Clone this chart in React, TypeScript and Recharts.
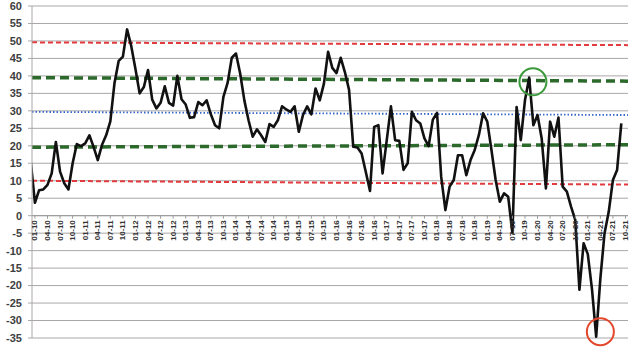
import React from 'react';
import { LineChart, Line, XAxis, YAxis, CartesianGrid, ReferenceLine, ReferenceDot } from 'recharts';

// first point = Dec 2009, monthly through Sep 2021
const firstYear = 2009;
const firstMonth = 12;

const values: number[] = [
  15.5, 3.7, 7.3, 7.5, 8.8, 12.1, 21.1, 12.6, 9.3, 7.5, 15, 20.5, 19.9,
  20.7, 23, 19.7, 15.9, 20.2, 23, 27, 38, 44.3, 45.5, 53.3, 48.5, 42,
  35, 36.8, 41.7, 33.2, 30.7, 32.3, 37, 32.3, 31.5, 40, 33.3, 31.8, 28,
  28.2, 32.5, 31.6, 33, 29, 25.9, 25, 34, 38, 45.2, 46.4, 40.7, 33,
  27.3, 22.6, 24.7, 23, 21.1, 26.2, 25.4, 27.3, 31.3, 30.4, 29.7, 31.3,
  24, 28.8, 31.3, 29, 36.4, 33, 37.8, 46.9, 42.3, 40.8, 45.2, 41.1, 36,
  19.7, 19.5, 17.8, 12.5, 7.1, 25.4, 25.9, 12.1, 21.6, 31.3, 21.6, 21.4,
  13.1, 15, 29.7, 27.3, 26.4, 22.1, 19.9, 27.5, 29.4, 11.1, 1.6, 8.3,
  10.2, 17.3, 17.3, 11.6, 15.9, 18.8, 23.1, 29.3, 26.9, 18.8, 10.2, 4,
  6.4, 5.4, -5, 31.1, 21.6, 33, 39.5, 25.9, 28.8, 22, 7.8, 26.9, 22.6,
  28.1, 8.3, 6.9, 2.6, -1.2, -21.2, -7.9, -11, -21, -34.6, -18, -5, 1.1,
  10.2, 13.1, 26.4,
];

const tickLabels: string[] = [
  '01-10', '04-10', '07-10', '10-10', '01-11', '04-11', '07-11', '10-11',
  '01-12', '04-12', '07-12', '10-12', '01-13', '04-13', '07-13', '10-13',
  '01-14', '04-14', '07-14', '10-14', '01-15', '04-15', '07-15', '10-15',
  '01-16', '04-16', '07-16', '10-16', '01-17', '04-17', '07-17', '10-17',
  '01-18', '04-18', '07-18', '10-18', '01-19', '04-19', '07-19', '10-19',
  '01-20', '04-20', '07-20', '10-20', '01-21', '04-21', '07-21', '10-21',
];

const yTicks: number[] = [-35, -30, -25, -20, -15, -10, -5, 0, 5, 10, 15, 20, 25, 30, 35, 40, 45, 50, 55, 60];

// sloped band lines (value at left edge, value at right edge)
const bandStart: number[] = [49.6, 39.5, 29.7, 19.6, 10.0];
const bandEnd: number[] = [48.8, 38.5, 28.8, 20.3, 8.9];
const bandKind: string[] = ['red', 'green', 'blue', 'green', 'red'];

// highlighted points (circles): month index and value
const circleIndex: number[] = [119.9, 136];
const circleValue: number[] = [38.3, -33.2];
const circleKind: string[] = ['green', 'red'];

const data = values.map((v, i) => ({ i, v }));

const labelIndex = (lab: string) => {
  const [mm, yy] = lab.split('-').map(Number);
  return (2000 + yy - firstYear) * 12 + (mm - firstMonth);
};

const xDomain: [number, number] = [0.3, 142.6];

const bandStyle: Record<string, { stroke: string; width: number; dash: string }> = {
  red: { stroke: '#e23a3f', width: 2, dash: '5 3' },
  green: { stroke: '#2c6a2c', width: 3.5, dash: '9 5' },
  blue: { stroke: '#3568c8', width: 1.8, dash: '1.5 2' },
};
const circleColor: Record<string, string> = { green: '#3a9a3a', red: '#e4482c' };

const font = '"Liberation Sans", Arial, sans-serif';

const XTick = (props: any) => {
  const { cx, cy, text } = props;
  if (cx == null || cy == null) return null;
  return (
    <g>
      <line x1={cx} y1={cy} x2={cx} y2={cy + 3} stroke="#9a9a9a" strokeWidth={1} />
      <text
        x={cx}
        y={cy + 4.5}
        transform={`rotate(-90, ${cx}, ${cy + 4.5})`}
        textAnchor="end"
        dominantBaseline="central"
        fontSize={8}
        fontWeight="bold"
        fontFamily={font}
        fill="#333"
      >
        {text}
      </text>
    </g>
  );
};

export default function App() {
  return (
    <div style={{ position: 'absolute', left: 0, top: 0, width: 640, height: 352, background: '#fff' }}>
      <LineChart width={640} height={352} data={data} margin={{ top: 6, right: 12, bottom: 14, left: 0 }}>
        <CartesianGrid vertical={false} stroke="#aaa6a6" strokeWidth={1} />
        <XAxis
          dataKey="i"
          type="number"
          domain={xDomain}
          allowDataOverflow
          hide
        />
        <YAxis
          type="number"
          domain={[-35, 60]}
          ticks={yTicks}
          interval={0}
          width={32}
          axisLine={{ stroke: '#aaa6a6' }}
          tickLine={{ stroke: '#aaa6a6' }}
          tickSize={4}
          tickMargin={6}
          tick={{ fontSize: 11, fontWeight: 'bold', fill: '#404040', fontFamily: font }}
        />
        <ReferenceLine y={0} stroke="#9a9a9a" strokeWidth={1} />
        {bandStart.map((s, k) => (
          <ReferenceLine
            key={'b' + k}
            segment={[{ x: xDomain[0], y: s }, { x: xDomain[1], y: bandEnd[k] }]}
            stroke={bandStyle[bandKind[k]].stroke}
            strokeWidth={bandStyle[bandKind[k]].width}
            strokeDasharray={bandStyle[bandKind[k]].dash}
            ifOverflow="visible"
          />
        ))}
        {tickLabels.map((lab) => (
          <ReferenceDot
            key={lab}
            x={labelIndex(lab)}
            y={0}
            r={1}
            ifOverflow="visible"
            shape={(p: any) => <XTick cx={p.cx} cy={p.cy} text={lab} />}
          />
        ))}
        <Line
          type="linear"
          dataKey="v"
          stroke="#111"
          strokeWidth={2.6}
          dot={false}
          isAnimationActive={false}
          strokeLinejoin="round"
        />
        {circleIndex.map((ci, k) => (
          <ReferenceDot
            key={'c' + k}
            x={ci}
            y={circleValue[k]}
            r={13.5}
            fill="none"
            stroke={circleColor[circleKind[k]]}
            strokeWidth={2}
            ifOverflow="visible"
          />
        ))}
      </LineChart>
    </div>
  );
}
